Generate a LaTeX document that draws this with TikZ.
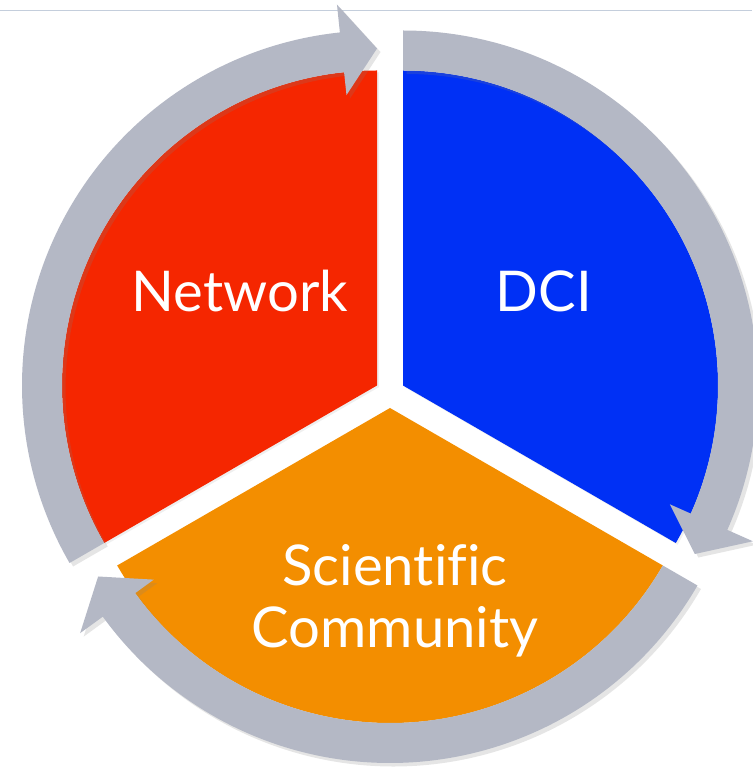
\documentclass[tikz,border=0pt]{standalone}
\usepackage{fontspec}
\setmainfont{Lato}[Ligatures=NoCommon]
\usetikzlibrary{shadows}
\definecolor{netred}{RGB}{245,38,0}
\definecolor{dciblue}{RGB}{0,48,245}
\definecolor{sciorange}{RGB}{243,142,0}
\definecolor{ringgray}{RGB}{180,184,197}
\definecolor{rulegray}{RGB}{196,206,220}
\tikzstyle{sector} = [drop shadow={opacity=0.12, shadow xshift=1pt, shadow yshift=-1pt}]
\tikzstyle{ring} = [fill=ringgray, drop shadow={opacity=0.2, shadow xshift=2pt, shadow yshift=-2pt}]
\tikzstyle{pietext} = [text=white, font=\fontsize{32}{35}\selectfont, align=center, inner sep=0pt]

\begin{document}
\begin{tikzpicture}[x=0.02cm, y=0.02cm]
    \useasboundingbox (0,0) rectangle (752,771);
    \fill[white] (0,0) rectangle (752,771);
    \draw[rulegray, line width=1pt] (0,760.5) -- (752,760.5);
    % the three pieces
    \fill[netred, sector] (377,385.5) -- ++(90:315) arc[start angle=90, end angle=210, radius=315] -- cycle;
    \fill[dciblue, sector] (403,385.5) -- ++(-30:315) arc[start angle=-30, end angle=90, radius=315] -- cycle;
    \fill[sciorange, sector] (390,363) -- ++(210:315) arc[start angle=210, end angle=330, radius=315] -- cycle;
    % arrows round the pieces
    \begin{scope}[shift={(377,385.5)}]
        \fill[ring] (210:355) arc[start angle=210, end angle=96, radius=355] -- (96:383) -- (90:337) -- (96:292) -- (96:315) arc[start angle=96, end angle=210, radius=315] -- cycle;
    \end{scope}
    \begin{scope}[shift={(403,385.5)}]
        \fill[ring] (90:355) arc[start angle=90, end angle=-24, radius=355] -- (-24:383) -- (-30:337) -- (-24:292) -- (-24:315) arc[start angle=-24, end angle=90, radius=315] -- cycle;
    \end{scope}
    \begin{scope}[shift={(390,363)}]
        \fill[ring] (330:355) arc[start angle=330, end angle=216, radius=355] -- (216:383) -- (210:337) -- (216:292) -- (216:315) arc[start angle=216, end angle=330, radius=315] -- cycle;
    \end{scope}
    % labels
    \node[pietext, anchor=base] (network) at (240,459) {Network};
    \node[pietext, anchor=base] (dci) at (544,459) {DCI};
    \node[pietext] (science) at (395,170) {Scientific\\Community};
\end{tikzpicture}
\end{document}
